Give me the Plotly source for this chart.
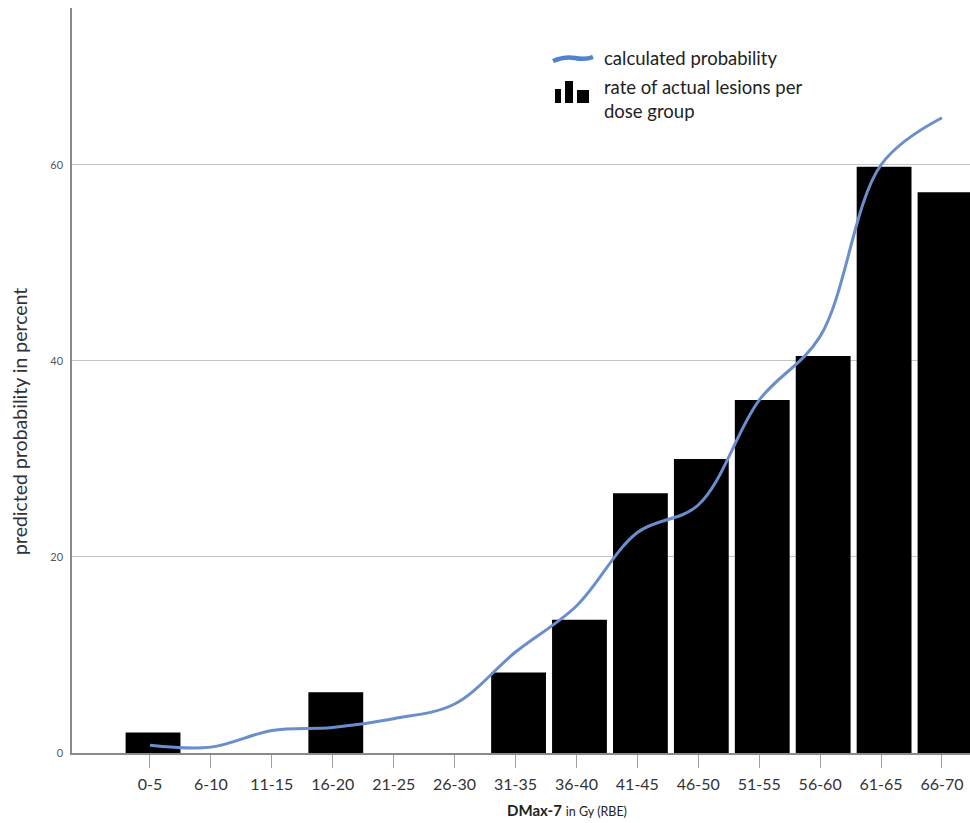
import plotly.graph_objects as go

categories = ["0-5", "6-10", "11-15", "16-20", "21-25", "26-30", "31-35",
              "36-40", "41-45", "46-50", "51-55", "56-60", "61-65", "66-70"]
actual_rate = [2.1, 0, 0, 6.2, 0, 0, 8.2, 13.6, 26.5, 30.0, 36.0, 40.5, 59.8, 57.2]
calc_prob = [0.8, 0.6, 2.3, 2.6, 3.5, 5.0, 10.3, 15.0, 22.5, 25.3, 36.0, 42.5, 60.0, 64.8]
y_ticks = [0, 20, 40, 60]

L, R, T, B = 72, 0, 8, 70
W, H = 970, 823
PW = W - L - R
PH = H - T - B


def px(x):
    return (x - L) / PW


def py(y):
    return (T + PH - y) / PH


fig = go.Figure()
fig.add_trace(go.Bar(x=categories, y=actual_rate, marker=dict(color="#000000", line=dict(width=0)),
                     width=0.9, offset=-0.4,
                     name="rate of actual lesions per dose group", showlegend=False))
fig.add_trace(go.Scatter(x=categories, y=calc_prob, mode="lines",
                         line=dict(color="#6a8ecc", width=3, shape="spline", smoothing=1.0),
                         name="calculated probability", showlegend=False))

shapes = []
# legend icons
shapes.append(dict(type="path", xref="paper", yref="paper",
                   path=f"M {px(553)},{py(61)} Q {px(565)},{py(56)} {px(575)},{py(58)} T {px(593)},{py(57)}",
                   line=dict(color="#4f82cf", width=4.5)))
for x0, x1, y0 in [(555, 561, 89), (565, 573, 81), (577, 589, 90)]:
    shapes.append(dict(type="rect", xref="paper", yref="paper",
                       x0=px(x0), x1=px(x1), y0=py(103), y1=py(y0),
                       fillcolor="#000000", line=dict(width=0)))

leg_font = dict(family="Lato", size=18.5, color="#222222")
annotations = [
    dict(text="calculated probability", xref="paper", yref="paper", x=px(602), y=py(58),
         xanchor="left", yanchor="middle", showarrow=False, font=leg_font),
    dict(text="rate of actual lesions per", xref="paper", yref="paper", x=px(602), y=py(87),
         xanchor="left", yanchor="middle", showarrow=False, font=leg_font),
    dict(text="dose group", xref="paper", yref="paper", x=px(602), y=py(111),
         xanchor="left", yanchor="middle", showarrow=False, font=leg_font),
    dict(text="<b>DMax-7</b> <span style='font-size:12.5px'>in Gy (RBE)</span>",
         xref="paper", yref="paper", x=px(567), y=py(810),
         xanchor="center", yanchor="middle", showarrow=False,
         font=dict(family="Lato", size=15, color="#222222")),
    dict(text="predicted probability in percent", xref="paper", yref="paper",
         x=px(19), y=py(422), textangle=-90, xanchor="center", yanchor="middle",
         showarrow=False, font=dict(family="Lato", size=19.5, color="#333333")),
]

fig.update_layout(
    width=W, height=H,
    margin=dict(l=L, r=R, t=T, b=B, pad=0),
    paper_bgcolor="white", plot_bgcolor="white",
    shapes=shapes, annotations=annotations,
    xaxis=dict(type="category", range=[-1.28, 13.46],
               showline=True, linecolor="#8a8a8a", linewidth=1.5,
               ticks="outside", ticklen=13, tickcolor="#a0a0a0", tickwidth=1,
               ticklabelstandoff=3,
               tickfont=dict(family="Lato", size=16, color="#333333"),
               showgrid=False, zeroline=False),
    yaxis=dict(range=[0, 76], tickvals=y_ticks, ticktext=[str(v) for v in y_ticks],
               showline=True, linecolor="#8a8a8a", linewidth=1.5,
               showgrid=True, gridcolor="#c4c4c4", gridwidth=1,
               ticks="", ticklabelstandoff=5,
               tickfont=dict(family="Lato", size=11, color="#555555"),
               zeroline=False),
)

fig.write_html("out.html")
